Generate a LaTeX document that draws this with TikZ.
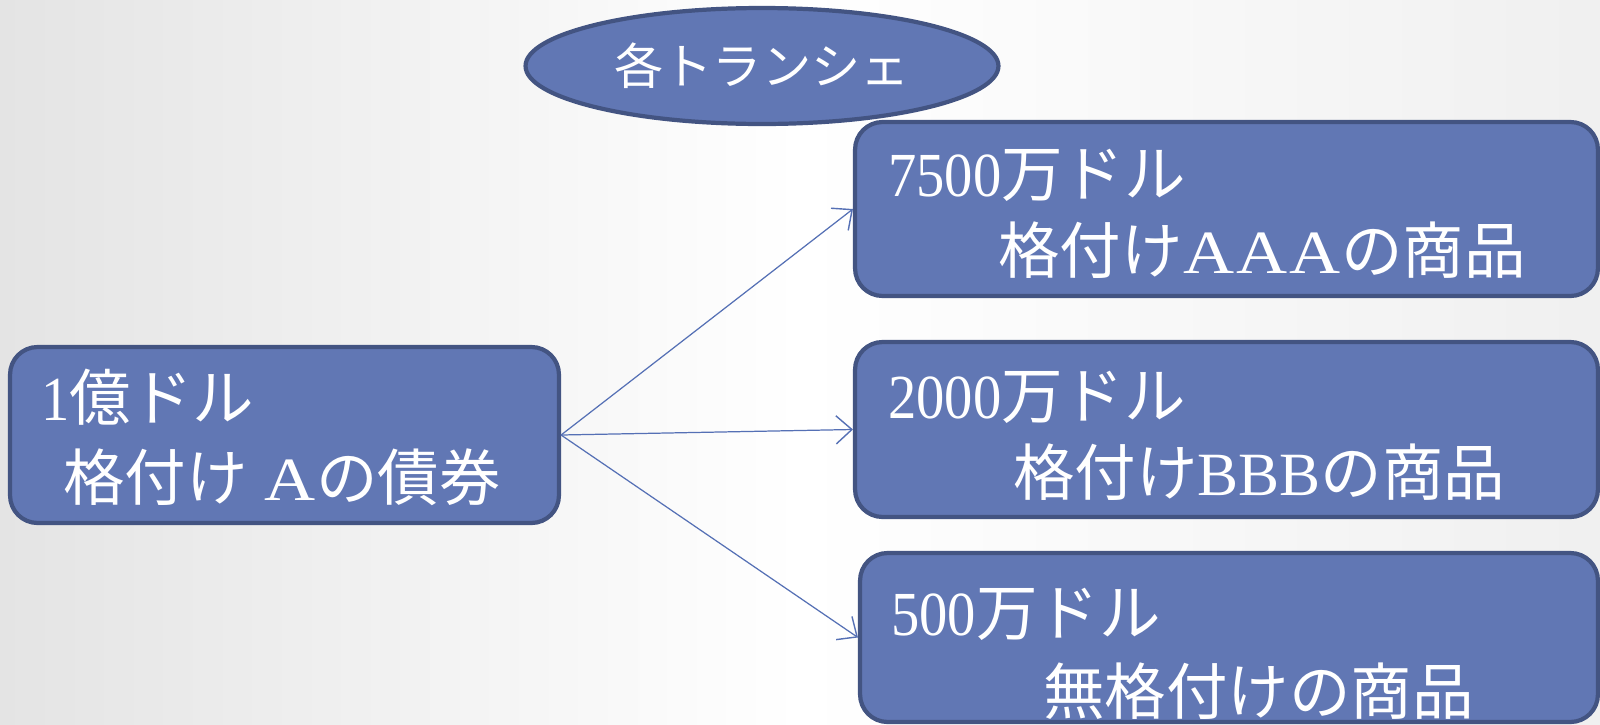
\documentclass[tikz,border=0pt]{standalone}
\usepackage{fontspec}
\usepackage{graphicx}
\setmainfont{Liberation Serif}
\newfontfamily\jp{Noto Sans CJK JP}
\usetikzlibrary{shapes.geometric,arrows.meta}
\definecolor{boxfill}{HTML}{6177B4}
\definecolor{boxline}{HTML}{435482}
\definecolor{arr}{HTML}{5570B5}
\definecolor{bgg}{HTML}{E4E4E4}
\newcommand{\J}[1]{{\jp #1}}
\newcommand{\wA}{\makebox[0.86em]{\scalebox{1.15}[1]{A}}}
\newcommand{\D}[1]{\scalebox{0.92}[1.02]{#1}}
\begin{document}
\begin{tikzpicture}[x=0.02cm,y=-0.02cm,
 box/.style={draw=boxline,fill=boxfill,line width=2.4pt,rounded corners=0.55cm,inner sep=0pt},
 ell/.style={ellipse,draw=boxline,fill=boxfill,line width=2.4pt,inner sep=0pt,minimum width=9.46cm,minimum height=2.32cm},
 txt/.style={anchor=base west,inner sep=0pt,text=white,font=\fontsize{35}{42}\selectfont},
 link/.style={draw=arr,line width=0.7pt,-{Straight Barb[length=9pt,width=16pt,line width=0.8pt]}}]
\useasboundingbox (0,0) rectangle (1600,724);
\shade[left color=bgg,right color=white!94!black,middle color=white] (0,0) rectangle (1600,724);

\node[ell,text=white,font=\fontsize{28}{32}\selectfont\jp] (tr) at (762,66) {各トランシェ};

\node[box,minimum width=10.98cm,minimum height=3.52cm] (src) at (284.5,435) {};
\node[box,minimum width=14.86cm,minimum height=3.48cm] (b1) at (1226.5,209) {};
\node[box,minimum width=14.86cm,minimum height=3.5cm] (b2) at (1226.5,429.5) {};
\node[box,minimum width=14.76cm,minimum height=3.38cm] (b3) at (1229,637.5) {};

\node[txt] (s1) at (41,420) {\D{1}\J{億ドル}};
\node[txt] (s2) at (63,500) {\J{格付け} \wA\J{の債券}};

\node[txt] (t11) at (888,196) {\D{7500}\J{万ドル}};
\node[txt] (t12) at (998,273) {\J{格付け}\wA\wA\wA\J{の商品}};

\node[txt] (t21) at (888,418) {\D{2000}\J{万ドル}};
\node[txt] (t22) at (1013,495) {\J{格付け}BBB\J{の商品}};

\node[txt] (t31) at (891,635) {\D{500}\J{万ドル}};
\node[txt] (t32) at (1043,714) {\J{無格付けの商品}};

\draw[link] (src.east) -- (b1.west);
\draw[link] (src.east) -- (b2.west);
\draw[link] (src.east) -- (b3.west);
\end{tikzpicture}
\end{document}
